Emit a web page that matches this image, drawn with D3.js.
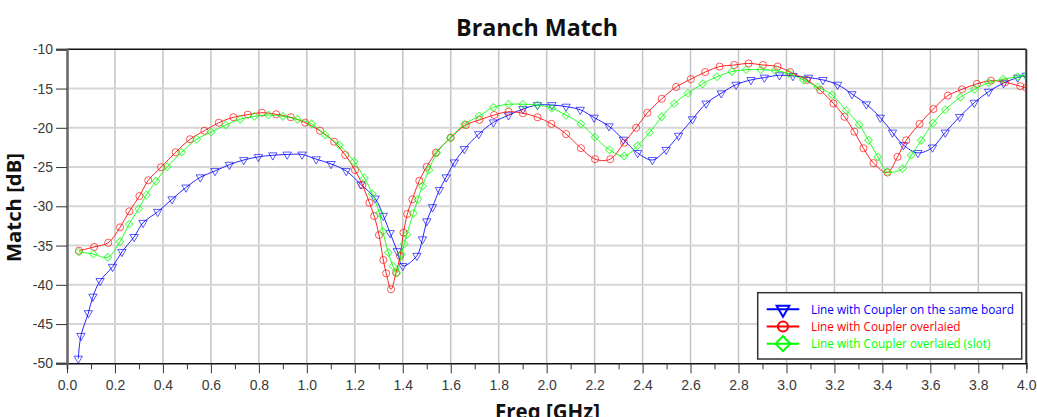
<!DOCTYPE html>
<html>
<head>
<meta charset="utf-8">
<script src="https://cdn.jsdelivr.net/npm/d3@7"></script>
<style>
  html, body { margin: 0; padding: 0; background: #fff; }
  svg { display: block; }
</style>
</head>
<body>
<svg id="chart" width="1037" height="417"></svg>
<script>
// ---------------- DATA ----------------
const chartTitle = "Branch Match";
const xLabel = "Freq [GHz]";
const yLabel = "Match [dB]";
const xTicks = [0.0,0.2,0.4,0.6,0.8,1.0,1.2,1.4,1.6,1.8,2.0,2.2,2.4,2.6,2.8,3.0,3.2,3.4,3.6,3.8,4.0];
const yTicks = [-10,-15,-20,-25,-30,-35,-40,-45,-50];
const seriesNames = ["Line with Coupler on the same board", "Line with Coupler overlaied", "Line with Coupler overlaied (slot)"];
const seriesColors = ["#0000ff", "#ff0000", "#00ff00"];

const blueFreq = [0.047,0.058,0.089,0.108,0.138,0.19,0.229,0.28,0.317,0.378,0.438,0.496,0.556,0.617,0.677,0.737,0.798,0.858,0.918,0.98,
  1.039,1.101,1.164,1.225,1.285,1.319,1.347,1.377,1.40,1.459,1.482,1.50,1.524,1.553,1.581,1.615,1.657,1.717,1.778,1.841,1.901,1.962,
  2.022,2.081,2.140,2.198,2.260,2.320,2.379,2.441,2.498,2.550,2.608,2.665,2.728,2.790,2.852,2.908,2.971,3.027,3.092,3.152,3.213,3.273,
  3.333,3.391,3.442,3.488,3.548,3.609,3.662,3.722,3.783,3.843,3.905,3.964,4.0];
const blueDb = [-49.4,-46.5,-43.6,-41.5,-39.5,-37.7,-35.8,-33.9,-32.1,-30.7,-29.1,-27.6,-26.3,-25.5,-24.7,-24.1,-23.7,-23.5,-23.4,-23.4,
  -24.0,-24.6,-25.5,-27.2,-29.0,-31.2,-33.4,-35.7,-37.6,-36.3,-34.2,-31.9,-30.1,-27.9,-26.3,-24.4,-22.7,-20.8,-19.3,-18.4,-17.6,-17.1,
  -17.1,-17.3,-17.7,-18.7,-19.8,-21.5,-23.2,-24.1,-22.8,-21.0,-18.9,-16.9,-15.6,-14.5,-13.9,-13.6,-13.3,-13.4,-13.6,-13.9,-14.5,-15.7,
  -17.0,-18.7,-20.6,-22.2,-23.2,-22.5,-20.6,-18.6,-16.8,-15.4,-14.3,-13.6,-13.35];

const redFreq = [0.05,0.113,0.172,0.221,0.26,0.302,0.339,0.392,0.453,0.513,0.573,0.633,0.694,0.754,0.813,0.872,0.933,0.993,
  1.055,1.114,1.160,1.201,1.232,1.261,1.281,1.301,1.319,1.331,1.351,1.372,1.389,1.403,1.419,1.440,1.469,1.500,1.538,1.600,1.663,
  1.720,1.781,1.841,1.901,1.962,2.020,2.081,2.143,2.202,2.265,2.323,2.373,2.420,2.480,2.540,2.601,2.661,2.721,2.782,2.842,2.902,
  2.963,3.015,3.085,3.141,3.196,3.242,3.283,3.321,3.363,3.421,3.463,3.499,3.555,3.613,3.673,3.732,3.794,3.853,3.912,3.975,4.0];
const redDb = [-35.66,-35.18,-34.64,-32.68,-30.64,-28.69,-26.69,-25.03,-23.12,-21.46,-20.37,-19.35,-18.66,-18.33,-18.08,-18.28,-18.66,-19.35,
  -20.37,-21.77,-23.46,-25.38,-27.29,-29.54,-31.24,-33.66,-36.84,-38.54,-40.57,-38.46,-36.33,-33.36,-30.98,-29.11,-26.74,-24.96,-23.17,-21.26,-19.64,
  -19.0,-18.37,-17.95,-18.15,-18.66,-19.5,-20.8,-22.6,-24.0,-24.0,-21.9,-20.0,-18.1,-16.3,-14.8,-13.8,-12.9,-12.2,-12.0,-11.8,-12.0,
  -12.2,-12.9,-13.9,-15.2,-16.9,-18.6,-20.5,-22.6,-24.5,-25.7,-23.7,-21.6,-19.5,-17.6,-15.9,-15.1,-14.4,-14.0,-14.2,-14.7,-14.9];

const greenFreq = [0.05,0.11,0.17,0.221,0.259,0.299,0.331,0.371,0.418,0.478,0.541,0.601,0.662,0.722,0.781,0.84,0.90,0.961,
  1.02,1.076,1.136,1.197,1.240,1.273,1.303,1.317,1.340,1.359,1.375,1.394,1.406,1.417,1.444,1.463,1.482,1.509,1.542,1.598,1.657,
  1.718,1.778,1.841,1.901,1.962,2.022,2.081,2.143,2.202,2.262,2.323,2.379,2.429,2.480,2.532,2.589,2.650,2.710,2.772,2.832,2.893,
  2.952,3.010,3.071,3.130,3.190,3.249,3.303,3.342,3.381,3.421,3.484,3.520,3.562,3.611,3.662,3.725,3.784,3.843,3.903,3.964,4.0];
const greenDb = [-35.82,-36.08,-36.5,-34.5,-32.29,-30.31,-28.56,-26.82,-24.96,-23.12,-21.46,-20.54,-19.64,-18.92,-18.54,-18.37,-18.54,-18.92,
  -19.5,-20.9,-22.2,-24.3,-26.4,-28.4,-30.9,-33.2,-35.9,-37.6,-38.5,-36.1,-34.8,-33.6,-30.9,-29.1,-27.4,-25.4,-23.2,-21.3,-19.55,
  -18.5,-17.4,-17.0,-17.0,-17.1,-17.5,-18.4,-19.5,-21.2,-22.8,-23.6,-22.3,-20.6,-18.6,-16.9,-15.6,-14.4,-13.5,-12.85,-12.6,-12.6,
  -12.7,-13.1,-13.9,-14.8,-15.8,-17.8,-19.6,-21.6,-23.7,-25.6,-25.2,-23.5,-21.6,-19.4,-17.7,-16.1,-15.1,-14.25,-13.8,-13.5,-13.35];

// ---------------- LAYOUT ----------------
const svg = d3.select("#chart");
const L = 67, R = 1026.3, T = 49.3, B = 363.3;
const x = d3.scaleLinear().domain([0, 4]).range([L, R]);
const y = d3.scaleLinear().domain([-50, -10]).range([B, T]);

const series = [
  {name: seriesNames[0], color: seriesColors[0], f: blueFreq, v: blueDb, sym: "tri"},
  {name: seriesNames[1], color: seriesColors[1], f: redFreq, v: redDb, sym: "circ"},
  {name: seriesNames[2], color: seriesColors[2], f: greenFreq, v: greenDb, sym: "dia"}
];

function symbolPath(kind, big) {
  if (kind === "tri") return d3.symbol().type(d3.symbolTriangle).size(big ? 70 : 30)();
  if (kind === "circ") return d3.symbol().type(d3.symbolCircle).size(big ? 80 : 40)();
  return d3.symbol().type(d3.symbolSquare).size(big ? 110 : 30)();
}
function symbolRot(kind) { return kind === "tri" ? 180 : (kind === "dia" ? 45 : 0); }

// grid
const grid = svg.append("g");
grid.selectAll("line.v").data(xTicks.slice(1, -1)).join("line")
  .attr("x1", d => x(d)).attr("x2", d => x(d)).attr("y1", T).attr("y2", B)
  .attr("stroke", "#c4c4c4").attr("stroke-width", 1.5);
grid.selectAll("line.h").data(yTicks.slice(1, -1)).join("line")
  .attr("x1", L).attr("x2", R).attr("y1", d => y(d)).attr("y2", d => y(d))
  .attr("stroke", "#d6d6d6").attr("stroke-width", 2);

// frame
svg.append("line").attr("x1", L).attr("x2", R).attr("y1", T).attr("y2", T).attr("stroke", "#111").attr("stroke-width", 1.5);
svg.append("line").attr("x1", R).attr("x2", R).attr("y1", T).attr("y2", B).attr("stroke", "#333").attr("stroke-width", 2);

// axes
const xAxis = d3.axisBottom(x).tickValues(d3.range(0, 41).map(i => i / 10)).tickSize(6).tickFormat("");
const gx = svg.append("g").attr("transform", `translate(0,${B})`).call(xAxis);
gx.select(".domain").attr("stroke", "#111").attr("stroke-width", 1.5);
gx.selectAll(".tick line").attr("stroke", "#333").attr("y2", (d, i) => i % 2 === 0 ? 10 : 6);
gx.selectAll(".tick").filter((d, i) => i % 2 === 0).append("text")
  .attr("y", 27).attr("text-anchor", "middle").attr("fill", "#3a3a3a")
  .style("font-family", "Liberation Sans, Arial, sans-serif").style("font-size", "14px")
  .text(d => d3.format(".1f")(d));

const yAxis = d3.axisLeft(y).tickValues(yTicks).tickSize(11).tickPadding(3).tickFormat(d => d);
const gy = svg.append("g").attr("transform", `translate(${L},0)`).call(yAxis);
gy.select(".domain").attr("stroke", "#666").attr("stroke-width", 2.5);
gy.selectAll(".tick line").attr("stroke", "#333");
gy.selectAll(".tick text").attr("fill", "#3a3a3a")
  .style("font-family", "Liberation Sans, Arial, sans-serif").style("font-size", "14px");

// clip
svg.append("clipPath").attr("id", "clip").append("rect")
  .attr("x", L).attr("y", T - 6).attr("width", R - L).attr("height", B - T + 6);

const line = d3.line().x(d => x(d[0])).y(d => y(d[1])).curve(d3.curveCatmullRom.alpha(0.5));
const plot = svg.append("g").attr("clip-path", "url(#clip)");
series.forEach(s => {
  const pts = s.f.map((f, i) => [f, s.v[i]]);
  plot.append("path").datum(pts).attr("d", line)
    .attr("fill", "none").attr("stroke", s.color).attr("stroke-width", 1).attr("stroke-opacity", 0.85);
  plot.append("g").selectAll("path").data(pts).join("path")
    .attr("d", symbolPath(s.sym, false))
    .attr("transform", d => `translate(${x(d[0])},${y(d[1])}) rotate(${symbolRot(s.sym)})`)
    .attr("fill", "none").attr("stroke", s.color).attr("stroke-width", 1).attr("stroke-opacity", 0.65);
});

// titles helper
function fitWidth(sel, w) {
  const n = sel.node();
  const cur = n.getComputedTextLength();
  const fs = parseFloat(sel.style("font-size"));
  sel.style("font-size", (fs * w / cur).toFixed(2) + "px");
}

// legend
const lg = svg.append("g");
lg.append("rect").attr("x", 757.7).attr("y", 292.7).attr("width", 264).attr("height", 66.3)
  .attr("fill", "#fff").attr("stroke", "#333").attr("stroke-width", 1.5);
const legendTexts = [];
series.forEach((s, i) => {
  const yy = 309.3 + i * 17.2;
  lg.append("line").attr("x1", 766.7).attr("x2", 799.3).attr("y1", yy).attr("y2", yy)
    .attr("stroke", s.color).attr("stroke-width", 2);
  lg.append("path").attr("d", symbolPath(s.sym, true))
    .attr("transform", `translate(783,${yy}) rotate(${symbolRot(s.sym)})`)
    .attr("fill", "none").attr("stroke", s.color).attr("stroke-width", 2);
  legendTexts.push(lg.append("text").attr("x", 811).attr("y", yy + 4.5).attr("fill", s.color)
    .style("font-family", "Open Sans, sans-serif").style("font-size", "11.5px")
    .text(s.name));
});
{
  const w0 = legendTexts[0].node().getComputedTextLength();
  const fs = (11.5 * 203 / w0).toFixed(2) + "px";
  legendTexts.forEach(t => t.style("font-size", fs));
}

const t = svg.append("text").attr("x", 537).attr("y", 36).attr("text-anchor", "middle")
  .style("font-family", "Open Sans, sans-serif").style("font-weight", "bold").style("font-size", "22px")
  .attr("fill", "#111").text(chartTitle);
fitWidth(t, 162);
const yl = svg.append("text").attr("transform", "translate(21,207.5) rotate(-90)").attr("text-anchor", "middle")
  .style("font-family", "Open Sans, sans-serif").style("font-weight", "bold").style("font-size", "20px")
  .attr("fill", "#111").text(yLabel);
fitWidth(yl, 109);
const xl = svg.append("text").attr("x", 547.5).attr("y", 419).attr("text-anchor", "middle")
  .style("font-family", "Open Sans, sans-serif").style("font-weight", "bold").style("font-size", "20px")
  .attr("fill", "#111").text(xLabel);
fitWidth(xl, 105);
</script>
</body>
</html>
